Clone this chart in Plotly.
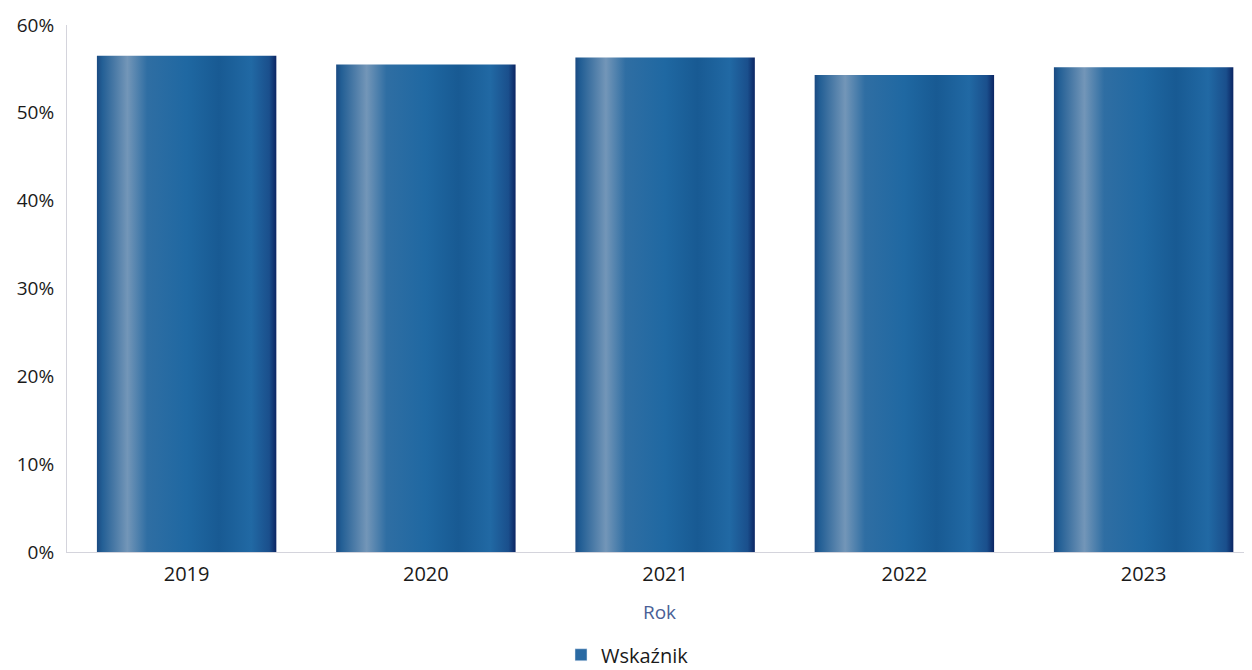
import plotly.graph_objects as go

years = ["2019", "2020", "2021", "2022", "2023"]
values = [56.5, 55.5, 56.3, 54.3, 55.2]
y_ticks = [0, 10, 20, 30, 40, 50, 60]
y_tick_labels = [f"{v}%" for v in y_ticks]
series_name = "Wskaźnik"

bar_half = 0.375
grad = [
    [0.0, "#1a4a82"],
    [0.03, "#235f95"],
    [0.17, "#7396b8"],
    [0.28, "#2f6ea3"],
    [0.5, "#1f68a2"],
    [0.68, "#185a93"],
    [0.86, "#2169a4"],
    [0.96, "#1a4f8c"],
    [1.0, "#0b2563"],
]

fig = go.Figure()
for i, (yr, v) in enumerate(zip(years, values)):
    xs = [i - bar_half, i + bar_half, i + bar_half, i - bar_half, i - bar_half]
    ys = [0, 0, v, v, 0]
    fig.add_trace(go.Scatter(
        x=xs, y=ys, mode="lines", fill="toself",
        line=dict(width=0, color="rgba(0,0,0,0)"),
        fillgradient=dict(type="horizontal", colorscale=grad),
        showlegend=False, hoverinfo="skip", name=yr,
    ))

fig.add_trace(go.Bar(x=[None], y=[None], name=series_name,
                     marker=dict(color="#2a6aa3"), showlegend=True))

fig.update_layout(
    width=1244, height=662,
    paper_bgcolor="white", plot_bgcolor="white",
    margin=dict(l=59, r=0, t=17, b=118, autoexpand=False),
    font=dict(family="Open Sans, Noto Sans, sans-serif", size=18, color="#1a1a1a"),
    showlegend=True,
    legend=dict(orientation="h", x=0.473, xanchor="center", y=-0.195, yanchor="middle",
                font=dict(size=20, color="#1a1a1a", weight=500), itemwidth=30),
    xaxis=dict(
        range=[-0.5, 4.453], automargin=False,
        tickmode="array", tickvals=list(range(len(years))), ticktext=years,
        showgrid=False, zeroline=False,
        showline=True, linecolor="#d4d4dc", linewidth=1,
        ticks="", tickfont=dict(size=20, color="#1a1a1a", weight=500), ticklabelstandoff=4,
        title=dict(text="Rok", font=dict(size=19, color="#4a5f96"), standoff=19),
    ),
    yaxis=dict(
        range=[0, 60], automargin=False,
        tickmode="array", tickvals=y_ticks, ticktext=y_tick_labels,
        showgrid=False, zeroline=False,
        showline=True, linecolor="#d4d4dc", linewidth=1,
        ticks="", tickfont=dict(size=19, color="#1a1a1a", weight=500), ticklabelstandoff=8,
    ),
)

fig.write_html("out.html")
